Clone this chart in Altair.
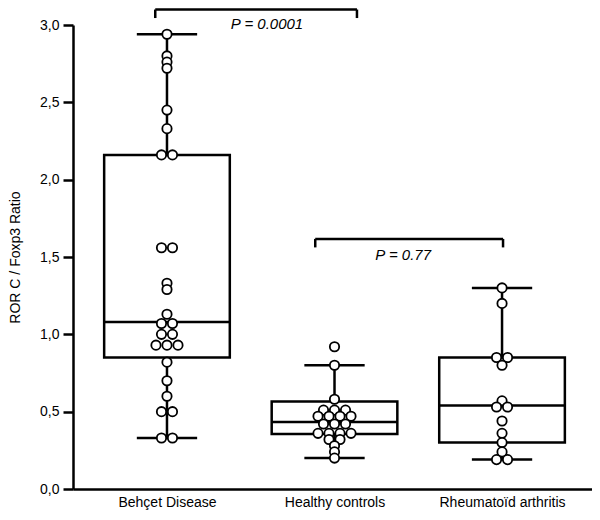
import altair as alt
import pandas as pd

# ---- data ----
groups = ["Behçet Disease", "Healthy controls", "Rheumatoïd arthritis"]

behcet = [2.94, 2.80, 2.76, 2.72, 2.45, 2.33, 2.16, 2.16, 1.56, 1.56, 1.33, 1.29,
          1.13, 1.07, 1.07, 1.00, 1.00, 0.93, 0.93, 0.93, 0.82, 0.70, 0.60,
          0.50, 0.50, 0.33, 0.33]
healthy = [0.92, 0.80, 0.58, 0.51, 0.51, 0.51, 0.47, 0.47, 0.47, 0.47, 0.42, 0.42,
           0.42, 0.36, 0.36, 0.36, 0.36, 0.32, 0.32, 0.28, 0.24, 0.20]
ra = [1.30, 1.20, 0.85, 0.85, 0.80, 0.57, 0.53, 0.53, 0.44, 0.36, 0.30, 0.24,
      0.19, 0.19]

whisker_low = [0.33, 0.20, 0.19]
q1 = [0.85, 0.355, 0.30]
median = [1.08, 0.433, 0.54]
q3 = [2.16, 0.566, 0.85]
whisker_high = [2.94, 0.80, 1.30]

bracket_x1 = [0.93, 1.885]
bracket_x2 = [2.134, 3.006]
bracket_y = [3.100, 1.617]
bracket_label = ["P = 0.0001", "P = 0.77"]
label_x = [1.597, 2.41]
label_y = [3.005, 1.515]

# ---- layout / style ----
W, H = 519, 464
XDOM = [0.439, 3.537]
YDOM = [0.0, 3.0]
px_x = W / (XDOM[1] - XDOM[0])
px_y = H / (YDOM[1] - YDOM[0])
DOT = 11            # dot diameter in px
BOX_HALF = 0.375
CAP_HALF = 0.18
DROP = 0.055
LW = 2.5
FONT = "Liberation Sans"

# ---- beeswarm rows (tied values sit side by side, centred) ----
rows = []
for gi, vals in enumerate([behcet, healthy, ra], start=1):
    seen = {}
    for v in vals:
        seen.setdefault(round(v, 3), 0)
        seen[round(v, 3)] += 1
    for v, n in seen.items():
        for i in range(n):
            off = (i - (n - 1) / 2) * DOT / px_x
            rows.append({"x": gi + off, "y": v})
pts = pd.DataFrame(rows)

box = pd.DataFrame({
    "c": [1, 2, 3],
    "lo": [c - BOX_HALF for c in [1, 2, 3]],
    "hi": [c + BOX_HALF for c in [1, 2, 3]],
    "clo": [c - CAP_HALF for c in [1, 2, 3]],
    "chi": [c + CAP_HALF for c in [1, 2, 3]],
    "wl": whisker_low, "q1": q1, "med": median, "q3": q3, "wh": whisker_high,
})

br = pd.DataFrame({"x1": bracket_x1, "x2": bracket_x2, "y": bracket_y,
                   "yd": [b - DROP for b in bracket_y]})
br_ends = pd.DataFrame({"x": bracket_x1 + bracket_x2, "y": bracket_y + bracket_y,
                        "yd": [b - DROP for b in bracket_y] * 2})
lab = pd.DataFrame({"x": label_x, "y": label_y, "t": bracket_label})

xlabels = "['', " + ", ".join("'" + g + "'" for g in groups) + "][datum.value]"

xaxis = alt.Axis(values=[1, 2, 3], labelExpr=xlabels, ticks=False, grid=False,
                 title=None, domainWidth=LW, domainColor="black",
                 labelFontSize=14, labelFont=FONT, labelColor="black",
                 labelPadding=6)
yaxis = alt.Axis(values=[0, 0.5, 1, 1.5, 2, 2.5, 3],
                 labelExpr="replace(format(datum.value, '.1f'), '.', ',')",
                 grid=False, title="ROR C / Foxp3 Ratio", tickSize=10,
                 tickWidth=LW, tickColor="black", domainWidth=LW,
                 domainColor="black", labelFontSize=14, labelFont=FONT,
                 labelColor="black", labelPadding=4, titleFont=FONT,
                 titleFontSize=14, titleFontWeight="normal", titleColor="black",
                 titlePadding=17)

xs = alt.Scale(domain=XDOM, nice=False, zero=False)
ys = alt.Scale(domain=YDOM, nice=False, zero=False)


def X(f):
    return alt.X(f, type="quantitative", scale=xs, axis=xaxis)


def Y(f):
    return alt.Y(f, type="quantitative", scale=ys, axis=yaxis)


base_box = alt.Chart(box)

rect = base_box.mark_rect(fill="white", stroke="black", strokeWidth=LW).encode(
    x=X("lo"), x2="hi", y=Y("q1"), y2="q3")
wlow = base_box.mark_rule(color="black", strokeWidth=LW).encode(
    x=X("c"), y=Y("wl"), y2="q1")
whigh = base_box.mark_rule(color="black", strokeWidth=LW).encode(
    x=X("c"), y=Y("q3"), y2="wh")
caplo = base_box.mark_rule(color="black", strokeWidth=LW).encode(
    x=X("clo"), x2="chi", y=Y("wl"))
caphi = base_box.mark_rule(color="black", strokeWidth=LW).encode(
    x=X("clo"), x2="chi", y=Y("wh"))
med = base_box.mark_rule(color="black", strokeWidth=LW).encode(
    x=X("lo"), x2="hi", y=Y("med"))

dots = alt.Chart(pts).mark_point(shape="circle", filled=False, fill="white",
                                 fillOpacity=1, stroke="black", strokeWidth=1.8,
                                 size=DOT * DOT * 0.72, opacity=1).encode(
    x=X("x"), y=Y("y"))

bh = alt.Chart(br).mark_rule(color="black", strokeWidth=LW).encode(
    x=X("x1"), x2="x2", y=Y("y"))
bv = alt.Chart(br_ends).mark_rule(color="black", strokeWidth=LW).encode(
    x=X("x"), y=Y("y"), y2="yd")
txt = alt.Chart(lab).mark_text(font=FONT, fontSize=15, fontStyle="italic",
                               color="black", baseline="middle",
                               align="center").encode(
    x=X("x"), y=Y("y"), text="t:N")

chart = alt.layer(rect, wlow, whigh, caplo, caphi, med, dots, bh, bv, txt).properties(
    width=W, height=H,
    autosize=alt.AutoSizeParams(type="none"),
    padding={"left": 65, "top": 17, "right": 0, "bottom": 21},
    background="white",
).configure_view(stroke=None)

chart.save("out.html", embed_options={"renderer": "svg", "actions": False})
